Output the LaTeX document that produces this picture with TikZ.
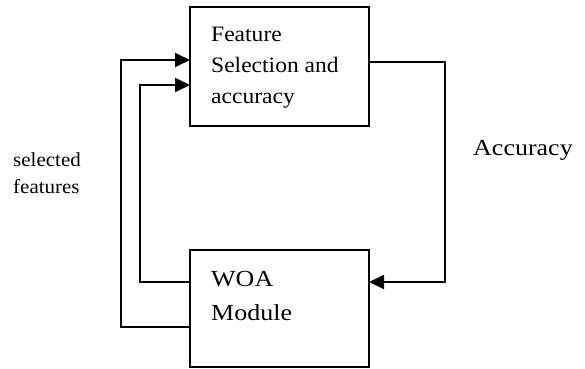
\documentclass[tikz,border=0pt]{standalone}
\usepackage{fontspec}
\setmainfont{Liberation Serif}
\usetikzlibrary{arrows.meta}
\newcommand{\stretchtext}[2]{\scalebox{#1}[1]{#2}}
\begin{document}
\begin{tikzpicture}[x=1pt,y=-1pt,
  box/.style={draw, line width=1.4pt, inner sep=0pt, outer sep=0pt, anchor=north west, minimum width=179pt},
  link/.style={line width=1.8pt, -{Triangle[length=15pt,width=14pt]}},
  label/.style={anchor=base west, inner sep=0pt}]
\useasboundingbox (0,0) rectangle (585,368);
\node[box, minimum height=119pt] (top) at (190,7) {};
\node[box, minimum height=117pt] (bot) at (190,250) {};
\node[label] (ftxt) at (211,41.5) {\fontsize{22}{31}\selectfont\stretchtext{1.07}{\begin{tabular}[t]{@{}l@{}}Feature\\Selection and\\accuracy\end{tabular}}};
\node[label] (wtxt) at (211,286.7) {\fontsize{23}{34}\selectfont\stretchtext{1.13}{\begin{tabular}[t]{@{}l@{}}WOA\\Module\end{tabular}}};
\node[label] (stxt) at (13,166.5) {\fontsize{20}{27}\selectfont\stretchtext{1.05}{\begin{tabular}[t]{@{}l@{}}selected\\features\end{tabular}}};
\node[label] (atxt) at (473,155.7) {\fontsize{23}{25}\selectfont\stretchtext{1.13}{Accuracy}};
\draw[link] (bot.west |- 0,327) -| (121,60) -- (top.west |- 0,60);
\draw[link] (bot.west |- 0,282) -| (140,85) -- (top.west |- 0,85);
\draw[link] (top.east |- 0,62) -| (445,282) -- (bot.east |- 0,282);
\end{tikzpicture}
\end{document}
